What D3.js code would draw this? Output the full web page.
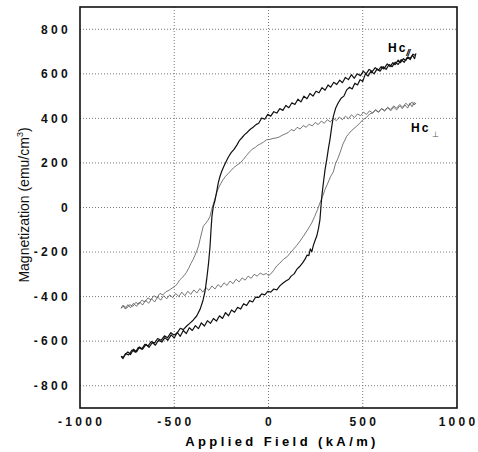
<!DOCTYPE html>
<html>
<head>
<meta charset="utf-8">
<script src="https://d3js.org/d3.v7.min.js"></script>
<style>
    body { margin: 0; background: #fff; }
    .grid line { stroke: #777; stroke-width: 1; stroke-dasharray: 1,2; }
    .tick-label { font-family: "Liberation Sans", Arial, sans-serif; font-size: 12px; font-weight: bold; letter-spacing: 3.3px; fill: #111; }
    .loop { fill: none; stroke-linejoin: round; }
</style>
</head>
<body>
<div id="chart"></div>
<script>
// axis ticks
var xTicks = [-1000, -500, 0, 500, 1000];
var yTicks = [-800, -600, -400, -200, 0, 200, 400, 600, 800];

// Hc parallel loop, descending branch (H kA/m, M emu/cm3)
var parDown = [[782,692],[775,668],[764,684],[752,670],[740,676],[728,660],[716,668],[700,650],[688,662],[672,641],[660,650],[645,632],[630,645],[612,622],[598,632],[582,616],[566,628],[550,610],[534,620],[518,600],[503,612],[488,592],[470,600],[455,580],[440,596],[424,574],[408,584],[392,560],[378,572],[362,552],[346,562],[330,540],[316,550],[300,526],[284,538],[268,515],[252,522],[236,500],[220,512],[204,488],[188,500],[172,474],[156,486],[140,462],[124,470],[108,448],[92,458],[76,436],[60,444],[44,424],[28,430],[12,410],[-4,418],[-20,396],[-36,402],[-52,378],[-66,372],[-82,360],[-98,350],[-112,338],[-128,326],[-142,312],[-155,300],[-168,280],[-182,262],[-198,246],[-212,228],[-224,208],[-236,186],[-248,163],[-258,138],[-267,108],[-276,66],[-285,28],[-293,4],[-300,-40],[-305,-100],[-310,-173],[-318,-250],[-328,-323],[-337,-378],[-347,-415],[-362,-455],[-381,-487],[-400,-506],[-418,-520],[-434,-532],[-452,-548],[-468,-542],[-486,-565],[-502,-572],[-518,-562],[-536,-585],[-552,-576],[-570,-596],[-588,-588],[-604,-608],[-622,-602],[-640,-622],[-656,-614],[-672,-636],[-690,-628],[-706,-650],[-724,-640],[-742,-662],[-758,-656],[-770,-672],[-782,-668]];

// Hc parallel loop, ascending branch
var parUp = [[-782,-668],[-772,-678],[-760,-660],[-746,-648],[-732,-660],[-716,-636],[-700,-648],[-684,-626],[-668,-636],[-650,-614],[-634,-628],[-616,-606],[-600,-618],[-584,-596],[-566,-604],[-550,-584],[-534,-596],[-516,-572],[-500,-586],[-484,-560],[-468,-578],[-452,-552],[-436,-566],[-420,-540],[-404,-552],[-388,-530],[-372,-544],[-356,-518],[-340,-532],[-324,-508],[-308,-520],[-292,-498],[-276,-510],[-260,-486],[-244,-498],[-228,-472],[-212,-486],[-196,-460],[-180,-470],[-164,-448],[-148,-456],[-132,-432],[-116,-440],[-100,-418],[-84,-424],[-68,-402],[-52,-404],[-36,-388],[-20,-392],[-4,-376],[12,-380],[28,-366],[44,-370],[60,-352],[76,-340],[92,-330],[108,-322],[120,-308],[136,-298],[150,-278],[165,-265],[180,-250],[194,-232],[204,-214],[214,-216],[222,-186],[230,-198],[238,-170],[247,-148],[256,-128],[265,-95],[273,-54],[278,0],[283,51],[291,110],[300,170],[309,215],[318,265],[326,305],[335,360],[344,409],[356,445],[370,470],[385,490],[400,500],[415,528],[430,540],[444,532],[458,558],[472,550],[486,574],[500,566],[514,600],[528,590],[544,612],[560,600],[576,622],[592,612],[608,632],[624,620],[640,642],[656,632],[672,652],[688,642],[704,664],[720,652],[736,674],[752,664],[766,688],[782,682]];

// Hc perpendicular loop, descending branch
var perpDown = [[782,464],[772,472],[762,452],[750,468],[738,446],[724,460],[710,444],[696,456],[680,438],[664,450],[648,434],[632,448],[616,432],[600,444],[584,428],[568,440],[552,424],[536,434],[520,418],[504,428],[488,412],[472,420],[456,404],[440,416],[424,398],[408,410],[392,394],[376,406],[360,390],[344,400],[328,384],[312,394],[296,378],[280,388],[264,372],[248,382],[232,366],[216,374],[200,360],[184,368],[168,352],[152,360],[136,344],[120,350],[104,336],[88,330],[72,324],[56,316],[40,312],[24,310],[8,306],[-10,304],[-26,294],[-42,286],[-56,280],[-70,270],[-86,262],[-100,250],[-116,234],[-134,215],[-150,200],[-168,190],[-186,178],[-200,165],[-214,152],[-228,140],[-240,126],[-254,106],[-265,88],[-275,66],[-284,40],[-293,15],[-302,-10],[-310,-39],[-320,-56],[-332,-70],[-346,-84],[-355,-115],[-363,-143],[-371,-172],[-381,-196],[-391,-216],[-400,-234],[-412,-252],[-424,-274],[-436,-292],[-448,-306],[-460,-316],[-472,-326],[-484,-342],[-496,-354],[-512,-362],[-528,-372],[-544,-378],[-560,-392],[-576,-386],[-592,-404],[-608,-396],[-624,-414],[-640,-406],[-656,-424],[-672,-416],[-688,-434],[-704,-426],[-720,-444],[-736,-436],[-752,-452],[-766,-442],[-782,-452]];

// Hc perpendicular loop, ascending branch
var perpUp = [[-782,-452],[-772,-438],[-760,-456],[-746,-436],[-732,-450],[-716,-430],[-700,-444],[-684,-424],[-668,-438],[-652,-416],[-636,-430],[-620,-410],[-604,-424],[-588,-402],[-572,-416],[-556,-396],[-540,-410],[-524,-392],[-508,-404],[-492,-386],[-476,-400],[-460,-380],[-444,-396],[-428,-376],[-412,-390],[-396,-370],[-380,-384],[-364,-364],[-348,-380],[-332,-360],[-316,-372],[-300,-352],[-284,-366],[-268,-346],[-252,-358],[-236,-338],[-220,-350],[-204,-330],[-188,-342],[-172,-322],[-156,-334],[-140,-316],[-124,-326],[-108,-308],[-92,-318],[-76,-300],[-60,-308],[-44,-294],[-28,-302],[-12,-296],[0,-306],[10,-300],[26,-284],[43,-263],[60,-250],[80,-232],[100,-220],[114,-205],[130,-190],[150,-170],[168,-150],[185,-129],[200,-110],[215,-90],[230,-68],[245,-40],[260,-10],[273,21],[287,50],[300,81],[315,110],[330,140],[344,160],[355,195],[368,220],[379,245],[395,285],[415,320],[440,345],[468,365],[485,380],[503,395],[520,404],[536,420],[552,424],[568,436],[584,428],[600,444],[616,436],[632,450],[648,440],[664,456],[680,446],[696,462],[712,450],[728,468],[744,456],[760,474],[772,460],[782,470]];

var W = 478, H = 452;
var plot = { left: 80, right: 457, top: 7, bottom: 408 };

var svg = d3.select("#chart").append("svg")
    .attr("width", W)
    .attr("height", H);

var x = d3.scaleLinear().domain([-1000, 1000]).range([plot.left, plot.right]);
var y = d3.scaleLinear().domain([-900, 900]).range([plot.bottom, plot.top]);

// dotted grid
var grid = svg.append("g").attr("class", "grid");
grid.selectAll("line.v")
    .data(xTicks.filter(function (d) { return d > -1000 && d < 1000; }))
    .enter().append("line")
    .attr("x1", function (d) { return x(d); })
    .attr("x2", function (d) { return x(d); })
    .attr("y1", plot.top)
    .attr("y2", plot.bottom);
grid.selectAll("line.h")
    .data(yTicks)
    .enter().append("line")
    .attr("x1", plot.left)
    .attr("x2", plot.right)
    .attr("y1", function (d) { return y(d); })
    .attr("y2", function (d) { return y(d); });

// tick labels
svg.append("g").selectAll("text")
    .data(yTicks)
    .enter().append("text")
    .attr("class", "tick-label")
    .attr("x", 71)
    .attr("y", function (d) { return y(d); })
    .attr("dy", "0.36em")
    .attr("text-anchor", "end")
    .text(function (d) { return d; });

svg.append("g").selectAll("text")
    .data(xTicks)
    .enter().append("text")
    .attr("class", "tick-label")
    .attr("x", function (d) { return x(d) + 1.6; })
    .attr("y", 426)
    .attr("text-anchor", "middle")
    .text(function (d) { return d; });

// loops
var line = d3.line()
    .x(function (d) { return x(d[0]); })
    .y(function (d) { return y(d[1]); });

var loops = [
    { data: perpDown, color: "#555", width: 0.8 },
    { data: perpUp, color: "#555", width: 0.8 },
    { data: parDown, color: "#111", width: 1.2 },
    { data: parUp, color: "#111", width: 1.2 }
];
svg.append("g").selectAll("path")
    .data(loops)
    .enter().append("path")
    .attr("class", "loop")
    .attr("d", function (d) { return line(d.data); })
    .attr("stroke", function (d) { return d.color; })
    .attr("stroke-width", function (d) { return d.width; });

// frame
svg.append("rect")
    .attr("x", plot.left)
    .attr("y", plot.top)
    .attr("width", plot.right - plot.left)
    .attr("height", plot.bottom - plot.top)
    .attr("fill", "none")
    .attr("stroke", "#111")
    .attr("stroke-width", 1.6);

// curve labels
var lab1 = svg.append("text")
    .attr("x", 388)
    .attr("y", 52)
    .style("font-family", "Liberation Sans, Arial, sans-serif")
    .style("font-weight", "bold")
    .style("font-size", "12px")
    .style("letter-spacing", "2px")
    .text("Hc");
lab1.append("tspan")
    .attr("dx", -1)
    .attr("dy", 4)
    .style("font-size", "9px")
    .style("font-style", "italic")
    .style("letter-spacing", "-1px")
    .text("//");

var lab2 = svg.append("text")
    .attr("x", 411)
    .attr("y", 132)
    .style("font-family", "Liberation Sans, Arial, sans-serif")
    .style("font-weight", "bold")
    .style("font-size", "12px")
    .style("letter-spacing", "2px")
    .text("Hc");
lab2.append("tspan")
    .attr("dx", 2)
    .attr("dy", 5)
    .style("font-size", "8px")
    .style("font-weight", "normal")
    .style("fill", "#555")
    .text("\u22A5");

// axis titles
svg.append("text")
    .attr("x", 282)
    .attr("y", 446)
    .attr("text-anchor", "middle")
    .style("font-family", "Liberation Sans, Arial, sans-serif")
    .style("font-weight", "bold")
    .style("font-size", "13px")
    .style("letter-spacing", "3.4px")
    .text("Applied Field (kA/m)");

var yt = svg.append("text")
    .attr("transform", "translate(29,205) rotate(-90)")
    .attr("text-anchor", "middle")
    .style("font-family", "Liberation Sans, Arial, sans-serif")
    .style("font-size", "14px")
    .style("fill", "#111")
    .text("Magnetization (emu/cm");
yt.append("tspan")
    .attr("dy", -6)
    .style("font-size", "9px")
    .text("3");
yt.append("tspan")
    .attr("dy", 6)
    .text(")");
</script>
</body>
</html>
